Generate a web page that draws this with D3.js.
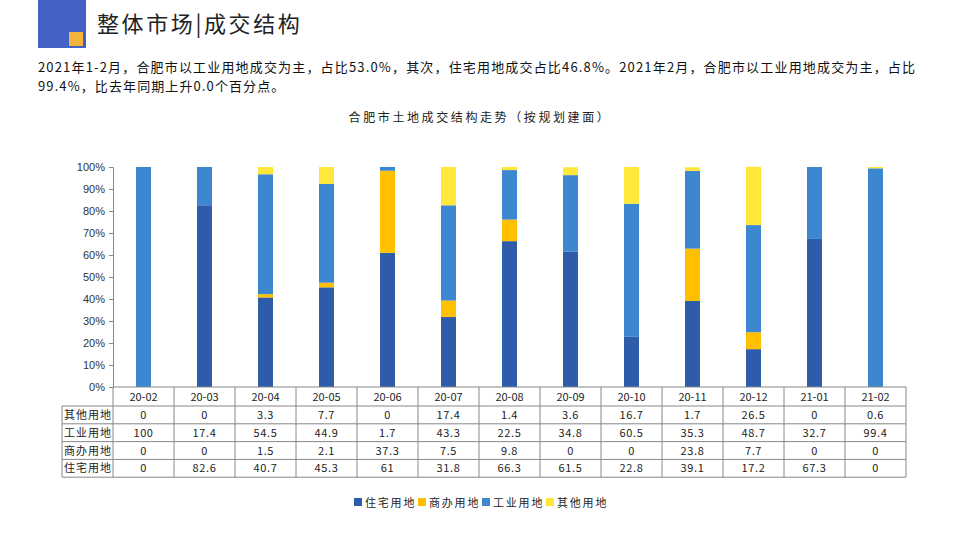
<!DOCTYPE html>
<html lang="zh">
<head>
<meta charset="UTF-8">
<title>整体市场|成交结构</title>
<script src="https://d3js.org/d3.v7.min.js"></script>
<style>
  body { margin: 0; background: #fff; }
  svg { display: block; font-family: "Noto Sans CJK SC", "Liberation Sans", sans-serif; }
  .tick text { font-family: "Liberation Sans", Arial, sans-serif; font-size: 11px; fill: #333; }
  .cell { font-size: 11px; fill: #222; }
</style>
</head>
<body>
<svg id="chart" width="958" height="539"></svg>
<script>
  // data
  const months = ["20-02","20-03","20-04","20-05","20-06","20-07","20-08","20-09","20-10","20-11","20-12","21-01","21-02"];
  const residential = [0, 82.6, 40.7, 45.3, 61, 31.8, 66.3, 61.5, 22.8, 39.1, 17.2, 67.3, 0];
  const commercial  = [0, 0, 1.5, 2.1, 37.3, 7.5, 9.8, 0, 0, 23.8, 7.7, 0, 0];
  const industrial  = [100, 17.4, 54.5, 44.9, 1.7, 43.3, 22.5, 34.8, 60.5, 35.3, 48.7, 32.7, 99.4];
  const other       = [0, 0, 3.3, 7.7, 0, 17.4, 1.4, 3.6, 16.7, 1.7, 26.5, 0, 0.6];
  const seriesNames = ["住宅用地", "商办用地", "工业用地", "其他用地"];
  const seriesColors = ["#2e5ca8", "#ffc000", "#3c87cf", "#ffe83a"];
  const yTicks = [0, 10, 20, 30, 40, 50, 60, 70, 80, 90, 100];

  const svg = d3.select("#chart");

  // header block
  svg.append("rect").attr("x", 38).attr("y", 0).attr("width", 48).attr("height", 48).attr("fill", "#4262c6");
  svg.append("rect").attr("x", 69).attr("y", 32).attr("width", 14).attr("height", 14).attr("fill", "#f6b33a");
  svg.append("text").attr("x", 97).attr("y", 32).attr("font-size", 22).attr("fill", "#222")
    .attr("letter-spacing", 2.6).text("整体市场|成交结构");

  // summary paragraph
  const para = svg.append("text").attr("font-size", 13).attr("fill", "#111");
  para.append("tspan").attr("x", 38).attr("y", 72)
    .attr("textLength", 877).attr("lengthAdjust", "spacing")
    .text("2021年1-2月，合肥市以工业用地成交为主，占比53.0%，其次，住宅用地成交占比46.8%。2021年2月，合肥市以工业用地成交为主，占比");
  para.append("tspan").attr("x", 38).attr("y", 91).attr("letter-spacing", 1.1)
    .text("99.4%，比去年同期上升0.0个百分点。");

  svg.append("text").attr("x", 480).attr("y", 122).attr("text-anchor", "middle")
    .attr("font-size", 12).attr("fill", "#222").attr("letter-spacing", 2.6)
    .text("合肥市土地成交结构走势（按规划建面）");

  // chart
  const plotLeft = 113, plotRight = 906, plotTop = 167, plotBottom = 387;
  const x = d3.scaleBand().domain(months).range([plotLeft, plotRight]);
  const y = d3.scaleLinear().domain([0, 100]).range([plotBottom, plotTop]);

  const rows = months.map((m, i) => ({
    month: m,
    "住宅用地": residential[i], "商办用地": commercial[i], "工业用地": industrial[i], "其他用地": other[i]
  }));
  const stacked = d3.stack().keys(seriesNames)(rows);
  const color = d3.scaleOrdinal().domain(seriesNames).range(seriesColors);
  const barW = 15;

  svg.append("g").selectAll("g").data(stacked).join("g")
    .attr("fill", d => color(d.key))
    .selectAll("rect").data(d => d).join("rect")
    .attr("x", d => x(d.data.month) + x.bandwidth() / 2 - barW / 2)
    .attr("y", d => y(d[1]))
    .attr("width", barW)
    .attr("height", d => y(d[0]) - y(d[1]));

  const yAxis = svg.append("g").attr("transform", `translate(${plotLeft},0)`)
    .call(d3.axisLeft(y).tickValues(yTicks).tickFormat(d => d + "%").tickSize(4).tickPadding(4));
  yAxis.selectAll("line, path").attr("stroke", "#888");

  // data table
  const tableLeft = 62;
  const headerH = 19, rowH = 17.8;
  const tableRows = [
    { name: "其他用地", vals: other },
    { name: "工业用地", vals: industrial },
    { name: "商办用地", vals: commercial },
    { name: "住宅用地", vals: residential }
  ];
  const tableBottom = plotBottom + headerH + rowH * tableRows.length;
  const tg = svg.append("g").attr("stroke", "#888").attr("stroke-width", 1);

  // horizontal lines
  tg.append("line").attr("x1", plotLeft).attr("x2", plotRight).attr("y1", plotBottom).attr("y2", plotBottom);
  d3.range(tableRows.length + 1).forEach(k => {
    const yy = plotBottom + headerH + rowH * k;
    tg.append("line").attr("x1", tableLeft).attr("x2", plotRight).attr("y1", yy).attr("y2", yy);
  });
  // vertical lines
  tg.append("line").attr("x1", tableLeft).attr("x2", tableLeft).attr("y1", plotBottom + headerH).attr("y2", tableBottom);
  months.forEach(m => {
    tg.append("line").attr("x1", x(m)).attr("x2", x(m)).attr("y1", plotBottom).attr("y2", tableBottom);
  });
  tg.append("line").attr("x1", plotRight).attr("x2", plotRight).attr("y1", plotBottom).attr("y2", tableBottom);

  svg.append("g").selectAll("text").data(months).join("text")
    .attr("class", "cell")
    .attr("x", d => x(d) + x.bandwidth() / 2)
    .attr("y", plotBottom + headerH / 2 + 4)
    .attr("text-anchor", "middle")
    .text(d => d);

  tableRows.forEach((r, k) => {
    const cy = plotBottom + headerH + rowH * k + rowH / 2 + 4;
    svg.append("text").attr("class", "cell").attr("x", tableLeft + 2).attr("y", cy)
      .attr("letter-spacing", 1).text(r.name);
    svg.append("g").selectAll("text").data(r.vals).join("text")
      .attr("class", "cell")
      .attr("x", (d, i) => x(months[i]) + x.bandwidth() / 2)
      .attr("y", cy)
      .attr("text-anchor", "middle")
      .attr("letter-spacing", 0.6)
      .text(d => d);
  });

  // legend
  const legend = svg.append("g").attr("transform", "translate(354,503)");
  const offsets = [0, 64, 128, 192];
  seriesNames.forEach((s, i) => {
    const g = legend.append("g").attr("transform", `translate(${offsets[i]},0)`);
    g.append("rect").attr("x", 0).attr("y", -5).attr("width", 8).attr("height", 8).attr("fill", seriesColors[i]);
    g.append("text").attr("x", 11).attr("y", 3.5).attr("font-size", 11).attr("fill", "#222")
      .attr("letter-spacing", 1.8).text(s);
  });
</script>
</body>
</html>
